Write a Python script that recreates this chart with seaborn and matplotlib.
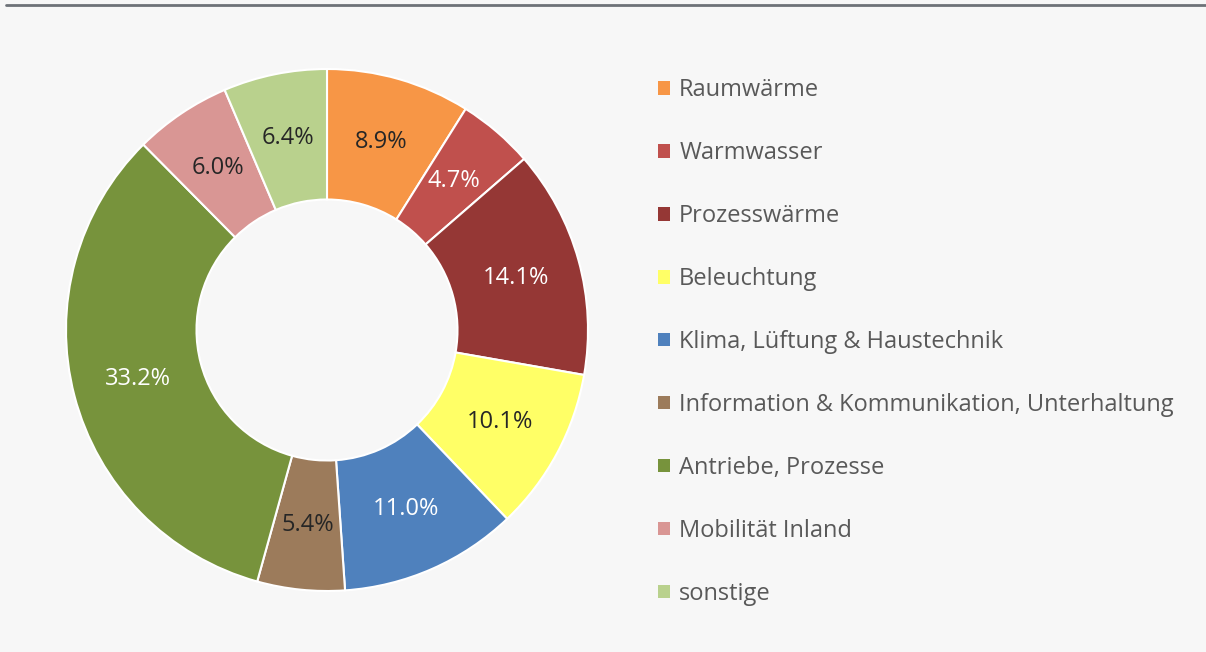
import matplotlib
matplotlib.use("Agg")
import matplotlib.pyplot as plt
from matplotlib.lines import Line2D
from matplotlib.patches import Patch
import seaborn as sns

categories = ["Raumwärme", "Warmwasser", "Prozesswärme", "Beleuchtung",
              "Klima, Lüftung & Haustechnik",
              "Information & Kommunikation, Unterhaltung",
              "Antriebe, Prozesse", "Mobilität Inland", "sonstige"]
values = [8.9, 4.7, 14.1, 10.1, 11.0, 5.4, 33.2, 6.0, 6.4]
colors = ["#F79646", "#C0504D", "#953735", "#FFFF66", "#4F81BD",
          "#9C7B5B", "#77933C", "#D99694", "#B9D18D"]
label_colors = ["#262626", "white", "white", "#262626", "white",
                "#262626", "white", "#262626", "#262626"]

sns.set_theme(style="white")
plt.rcParams["font.family"] = ["Open Sans", "DejaVu Sans"]
bg = "#F7F7F7"

fig = plt.figure(figsize=(12.06, 6.52), dpi=100, facecolor=bg)
ax = fig.add_axes([66 / 1206, 61 / 652, 522 / 1206, 522 / 652])
ax.set_facecolor(bg)

wedges, texts, autotexts = ax.pie(
    values, colors=colors, startangle=90, counterclock=False,
    radius=1, autopct="%1.1f%%", pctdistance=0.75,
    wedgeprops=dict(width=0.5, edgecolor="white", linewidth=1.5),
)
for t, v, c in zip(autotexts, values, label_colors):
    t.set_text(f"{v:.1f}%")
    t.set_color(c)
    t.set_fontsize(17)
ax.set_xlim(-1.0, 1.0)
ax.set_ylim(-1.0, 1.0)

handles = [Patch(facecolor=c, edgecolor="none") for c in colors]
leg = fig.legend(handles, categories, loc="upper left",
                 bbox_to_anchor=(649 / 1206, 1 - 69 / 652),
                 frameon=False, fontsize=17, labelspacing=1.65,
                 handlelength=0.48, handleheight=0.48, handletextpad=0.4,
                 borderaxespad=0)
for t in leg.get_texts():
    t.set_color("#595959")

fig.add_artist(Line2D([6 / 1206, 1], [1 - 5 / 652, 1 - 5 / 652],
                      transform=fig.transFigure, color="#6D7278", linewidth=2))

plt.savefig("out.png", facecolor=bg)
plt.close()
